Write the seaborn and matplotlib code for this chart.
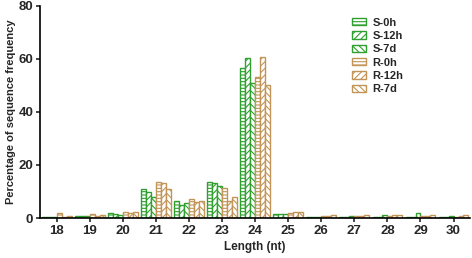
import matplotlib
matplotlib.use("Agg")
import matplotlib.pyplot as plt
import seaborn as sns
import pandas as pd
from matplotlib.patches import Patch

lengths = [18, 19, 20, 21, 22, 23, 24, 25, 26, 27, 28, 29, 30]
series_names = ["S-0h", "S-12h", "S-7d", "R-0h", "R-12h", "R-7d"]
s_0h  = [0.5, 0.8, 1.8, 10.9, 6.4, 13.7, 56.5, 1.5, 0.4, 0.4, 0.3, 0.4, 0.3]
s_12h = [0.3, 0.6, 1.4, 9.9, 5.0, 13.1, 60.5, 1.5, 0.4, 0.4, 0.3, 0.4, 0.3]
s_7d  = [0.3, 0.6, 1.3, 8.0, 5.5, 12.1, 51.1, 1.5, 0.4, 0.8, 1.0, 1.8, 0.7]
r_0h  = [2.0, 1.5, 2.3, 13.7, 7.1, 11.5, 53.2, 1.8, 0.8, 0.7, 0.9, 0.7, 0.3]
r_12h = [0.3, 0.8, 1.9, 13.3, 5.9, 6.5, 60.9, 2.2, 0.9, 0.9, 1.2, 0.8, 0.6]
r_7d  = [0.9, 1.3, 2.1, 10.8, 6.3, 8.0, 50.2, 2.2, 1.2, 1.1, 1.3, 1.1, 1.2]

values = [s_0h, s_12h, s_7d, r_0h, r_12h, r_7d]
rows = []
for name, vals in zip(series_names, values):
    for L, v in zip(lengths, vals):
        rows.append({"Length": str(L), "Series": name, "Value": v})
df = pd.DataFrame(rows)

green = "#2f9f2f"
brown = "#c39457"
colors = [green, green, green, brown, brown, brown]
hatches = ["-----", "/////", "\\\\\\\\\\", "-----", "/////", "\\\\\\\\\\"]

sns.set_style("ticks")
plt.rcParams["font.family"] = ["Liberation Sans", "DejaVu Sans"]
plt.rcParams["font.weight"] = "bold"
plt.rcParams["hatch.linewidth"] = 0.8

fig = plt.figure(figsize=(4.72, 2.58), dpi=100)
ax = fig.add_axes([0.085, 0.155, 0.911, 0.822])

sns.barplot(data=df, x="Length", y="Value", hue="Series", hue_order=series_names,
            order=[str(l) for l in lengths], palette=colors, width=0.9,
            ax=ax, legend=False, errorbar=None)

for cont, c, h in zip(ax.containers, colors, hatches):
    for p in cont:
        p.set_facecolor("white")
        p.set_edgecolor(c)
        p.set_hatch(h)
        p.set_linewidth(1.0)

ax.set_ylim(0, 80)
ax.set_xlim(-0.5, len(lengths) - 0.5)
ax.set_yticks([0, 20, 40, 60, 80])
ax.set_xlabel("Length (nt)", fontsize=8.5, fontweight="bold", labelpad=3)
ax.set_ylabel("Percentage of sequence frequency", fontsize=8, fontweight="bold", labelpad=2)
ax.tick_params(axis="both", labelsize=9.5, width=1.2, length=3, pad=2)
for lab in ax.get_xticklabels() + ax.get_yticklabels():
    lab.set_fontweight("bold")
for s in ["top", "right"]:
    ax.spines[s].set_visible(False)
for s in ["left", "bottom"]:
    ax.spines[s].set_linewidth(1.2)
    ax.spines[s].set_color("black")

handles = [Patch(facecolor="white", edgecolor=c, hatch=h, linewidth=1.0)
           for c, h in zip(colors, hatches)]
leg = ax.legend(handles, series_names, loc="upper left", bbox_to_anchor=(0.726, 0.945),
                frameon=False, fontsize=8, handlelength=1.2, handleheight=0.6,
                labelspacing=0.3, handletextpad=0.6, borderaxespad=0, borderpad=0)
for t in leg.get_texts():
    t.set_fontweight("bold")

fig.savefig("out.png", dpi=100)
